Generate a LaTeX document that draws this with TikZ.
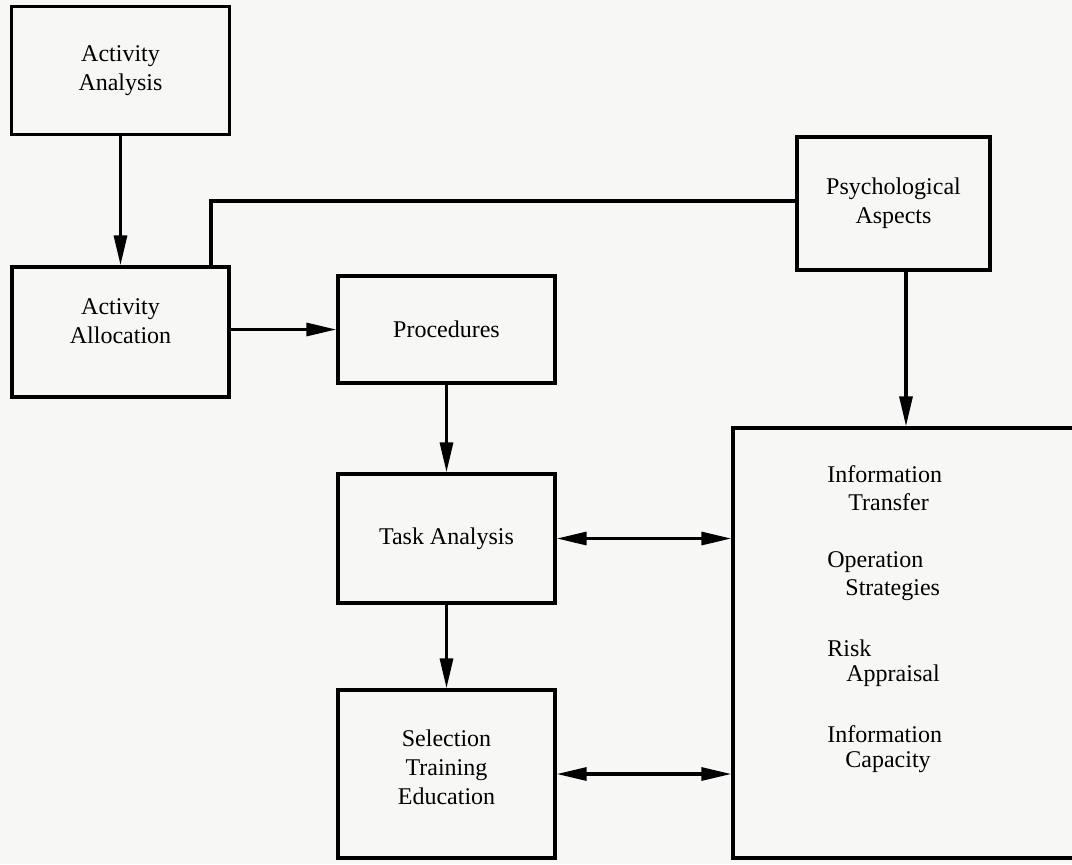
\documentclass[tikz,border=0pt]{standalone}
\usepackage{fontspec}
\setmainfont{Liberation Serif}
\usetikzlibrary{arrows.meta}
\definecolor{paper}{HTML}{F7F7F5}
\begin{document}
\begin{tikzpicture}[x=0.5pt,y=-0.5pt,
  box/.style={draw=black,line width=1.7pt,rectangle,inner sep=0pt,align=center,
    font=\fontsize{12}{14.5}\selectfont},
  arr/.style={line width=1.6pt,-{Triangle[length=15pt,width=6.5pt]}},
  darr/.style={line width=1.6pt,{Triangle[length=15pt,width=6.5pt]}-{Triangle[length=15pt,width=6.5pt]}},
  ln/.style={line width=1.6pt},
  lbl/.style={anchor=west,inner sep=0pt,font=\fontsize{12}{14.5}\selectfont}]
\fill[paper] (0,0) rectangle (1072,864);
\useasboundingbox (0,0) rectangle (1072,864);
\clip (0,0) rectangle (1072,864);
% boxes
\node[box,minimum width=109pt,minimum height=64pt] (AA) at (120.5,70.5) {Activity\\Analysis};
\node[box,minimum width=108.5pt,minimum height=65pt] (AL) at (120.5,332) {};
\node[font=\fontsize{12}{14.5}\selectfont,align=center] (ALt) at (120.5,321) {Activity\\Allocation};
\node[box,minimum width=96.5pt,minimum height=66.5pt] (PA) at (893.5,203.5) {Psychological\\Aspects};
\node[box,minimum width=108.5pt,minimum height=53.5pt] (PR) at (446.5,329.5) {Procedures};
\node[box,minimum width=108.5pt,minimum height=64.5pt] (TA) at (446.5,538.5) {Task Analysis};
\node[box,minimum width=108.5pt,minimum height=84pt] (ST) at (446.5,774) {};
\node[font=\fontsize{12}{14.5}\selectfont,align=center] (STt) at (446.5,767) {Selection\\Training\\Education};
\node[box,minimum width=190pt,minimum height=215pt] (IN) at (923,643) {};
% texts in the big box
\node[lbl] (t1) at (827,474) {Information};
\node[lbl] (t2) at (848,502) {Transfer};
\node[lbl] (t3) at (827,562) {Operation};
\node[lbl] (t4) at (845,590) {Strategies};
\node[lbl] (t5) at (827,648) {Risk};
\node[lbl] (t6) at (846,676) {Appraisal};
\node[lbl] (t7) at (827,734) {Information};
\node[lbl] (t8) at (845,762) {Capacity};
% connectors
\draw[arr] (AA.south) -- (AL.north);
\draw[ln] (AL.north -| 211,0) |- (PA.west |- 0,201);
\draw[arr] (AL.east |- PR.west) -- (PR.west);
\draw[arr] (PR.south) -- (TA.north);
\draw[arr] (TA.south) -- (ST.north);
\draw[arr] (PA.south -| 906,0) -- (IN.north -| 906,0);
\draw[darr] (TA.east) -- (TA.east -| IN.west);
\draw[darr] (ST.east) -- (ST.east -| IN.west);
\end{tikzpicture}
\end{document}
